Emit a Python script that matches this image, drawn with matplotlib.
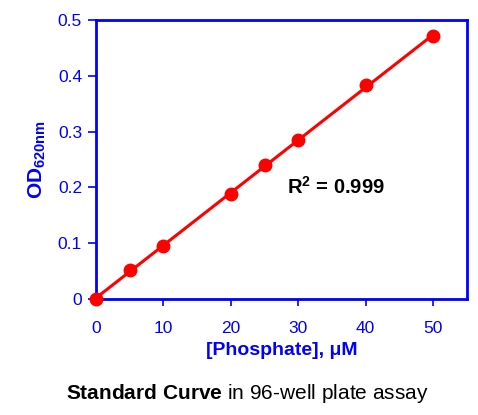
import matplotlib.pyplot as plt
import numpy as np

plt.rcParams['font.family'] = ['Liberation Sans', 'DejaVu Sans']
plt.rcParams['mathtext.fontset'] = 'custom'
plt.rcParams['mathtext.rm'] = 'Liberation Sans'
plt.rcParams['mathtext.bf'] = 'Liberation Sans:bold'
plt.rcParams['mathtext.it'] = 'Liberation Sans:italic'

# standard curve readings
phosphate = [0, 5, 10, 20, 25, 30, 40, 50]
od620 = [0.0, 0.052, 0.095, 0.188, 0.240, 0.285, 0.383, 0.471]
x_ticks = [0, 10, 20, 30, 40, 50]
y_ticks = [0, 0.1, 0.2, 0.3, 0.4, 0.5]
y_tick_labels = ['0', '0.1', '0.2', '0.3', '0.4', '0.5']

blue = '#0000ff'
red = '#ff0000'

fig = plt.figure(figsize=(4.78, 4.15), dpi=100)
ax = fig.add_axes([0.2008, 0.2795, 0.776, 0.672])

# linear fit through the points
slope, icpt = np.polyfit(phosphate, od620, 1)
fx = np.array([min(phosphate), max(phosphate)])
ax.plot(fx, slope * fx + icpt, color=red, lw=2.2, zorder=2)
ax.plot(phosphate, od620, 'o', color=red, ms=9, zorder=3, clip_on=False)

ax.set_xlim(0, 55)
ax.set_ylim(0, 0.5)
ax.set_xticks(x_ticks)
ax.set_yticks(y_ticks)
ax.set_yticklabels(y_tick_labels)

for s in ax.spines.values():
    s.set_color(blue)
    s.set_linewidth(2)
ax.tick_params(colors=blue, labelsize=12.5, width=1.2)
ax.tick_params(axis='y', length=6, pad=4)
ax.tick_params(axis='x', length=5, pad=11)

ax.set_xlabel('[Phosphate], \u03bcM', color=blue, fontsize=14,
              fontweight='bold', labelpad=4)
ax.set_ylabel(r'$\mathbf{OD}_{\mathbf{620nm}}$', color=blue, fontsize=15,
              labelpad=7)

ax.text(28.3, 0.188, r'$\mathbf{R^2}$ = 0.999', fontsize=14.5,
        fontweight='bold', color='black')

fig.text(0.518, 0.053, r'$\mathbf{Standard\ Curve}$ in 96-well plate assay',
         ha='center', va='center', fontsize=15, color='black')

fig.savefig('out.png', dpi=100)
